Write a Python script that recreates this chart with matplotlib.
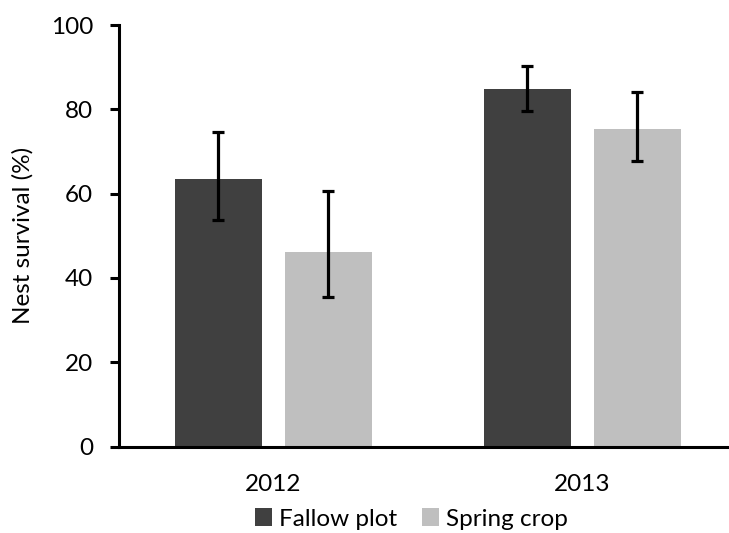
import matplotlib
matplotlib.use("Agg")
import matplotlib.pyplot as plt
import numpy as np

years = ["2012", "2013"]
series_names = ["Fallow plot", "Spring crop"]
fallow = [63.4, 84.7]
fallow_lo = [53.7, 79.7]
fallow_hi = [74.7, 90.3]
spring = [46.2, 75.4]
spring_lo = [35.5, 67.8]
spring_hi = [60.6, 84.1]
yticks = [0, 20, 40, 60, 80, 100]

plt.rcParams['font.family'] = ['Lato', 'DejaVu Sans']
fs = 17.5

fig = plt.figure(figsize=(7.29, 5.33), dpi=100)
W, H = 729, 533
left, right, top, bottom = 118.8, 736.8, 25, 446.5
ax = fig.add_axes([left / W, 1 - bottom / H, (right - left) / W, (bottom - top) / H])

x = np.arange(len(years))
bw = 0.28
off = 0.178
col_f, col_s = "#404040", "#BFBFBF"
ekw = dict(ecolor="black", elinewidth=2.3, capsize=4.5, capthick=2.3)

f_err = [np.array(fallow) - np.array(fallow_lo), np.array(fallow_hi) - np.array(fallow)]
s_err = [np.array(spring) - np.array(spring_lo), np.array(spring_hi) - np.array(spring)]
ax.bar(x - off, fallow, bw, color=col_f, label=series_names[0], yerr=f_err, error_kw=ekw, zorder=2)
ax.bar(x + off, spring, bw, color=col_s, label=series_names[1], yerr=s_err, error_kw=ekw, zorder=2)

ax.set_xlim(-0.5, 1.5)
ax.set_ylim(0, 100)
ax.set_yticks(yticks)
ax.set_yticklabels([str(t) for t in yticks], fontsize=fs)
ax.set_xticks(x)
ax.set_xticklabels(years, fontsize=fs)
ax.tick_params(axis='y', length=6.5, width=2.2, pad=12)
ax.tick_params(axis='x', length=0, pad=20)
for s in ["top", "right"]:
    ax.spines[s].set_visible(False)
for s in ["left", "bottom"]:
    ax.spines[s].set_linewidth(2.2)
ax.spines["bottom"].set_clip_on(False)
ax.set_ylabel("Nest survival (%)", fontsize=fs, labelpad=12)

handles, labels = ax.get_legend_handles_labels()
fig.legend(handles, labels, loc="center", bbox_to_anchor=(411.5 / W, 1 - 519 / H),
           ncol=2, frameon=False, fontsize=fs, handlelength=0.7, handleheight=0.7,
           handletextpad=0.3, columnspacing=1.0, borderaxespad=0, borderpad=0)

fig.savefig("out.png", dpi=100)
